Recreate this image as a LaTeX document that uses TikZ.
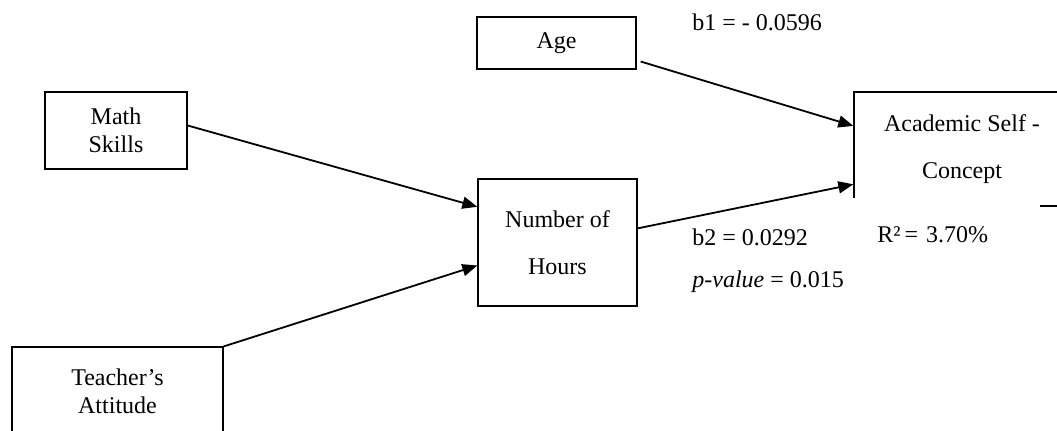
\documentclass[tikz,border=0pt]{standalone}
\usepackage{fontspec}
\setmainfont{Liberation Serif}
\usetikzlibrary{arrows.meta}

\begin{document}
\begin{tikzpicture}[
    x=0.5pt, y=-0.5pt,
    box/.style={rectangle, draw, line width=0.65pt, align=center, font=\fontsize{12}{13.8}\selectfont},
    arr/.style={-{Triangle[length=7.5pt,width=6pt]}, line width=0.9pt},
    coef/.style={anchor=west, inner sep=1pt, font=\fontsize{12}{14}\selectfont}
]
\useasboundingbox (0,0) rectangle (1057,430);
\clip (0,0) rectangle (1057,430);

\node[box, minimum width=79.5pt, minimum height=26pt] (age) at (556.5,43) {Age};
\node[box, minimum width=71pt, minimum height=38.5pt] (math) at (116,130.5) {Math\\Skills};
\node[box, minimum width=79.5pt, minimum height=63.5pt] (hours) at (557.5,242.5) {Number of\\[10pt]Hours};
\node[box, minimum width=105.5pt, minimum height=44.5pt] (teacher) at (117.5,391.5) {Teacher’s\\Attitude};
\node[box, minimum width=108pt, minimum height=57pt] (acad) at (962,149) {Academic Self -\\[10pt]Concept};
\node[anchor=west, fill=white, inner xsep=13.5pt, text width=68pt, minimum height=37pt, align=left,
      font=\fontsize{12}{14}\selectfont] (rsq) at (850,235) {R²\,= 3.70\%};

\draw[arr] ([xshift=2pt]age.-13) -- (acad.168);
\draw[arr] (hours.10) -- (acad.198);
\draw[arr] (math.4) -- (hours.156);
\draw[arr] (teacher.23) -- (hours.196);

\node[coef] (b1) at (690,22) {b1 = - 0.0596};
\node[coef] (b2) at (690,237) {b2 = 0.0292};
\node[coef] (pval) at (690,282) {\textit{p-value} = 0.015};
\end{tikzpicture}
\end{document}
